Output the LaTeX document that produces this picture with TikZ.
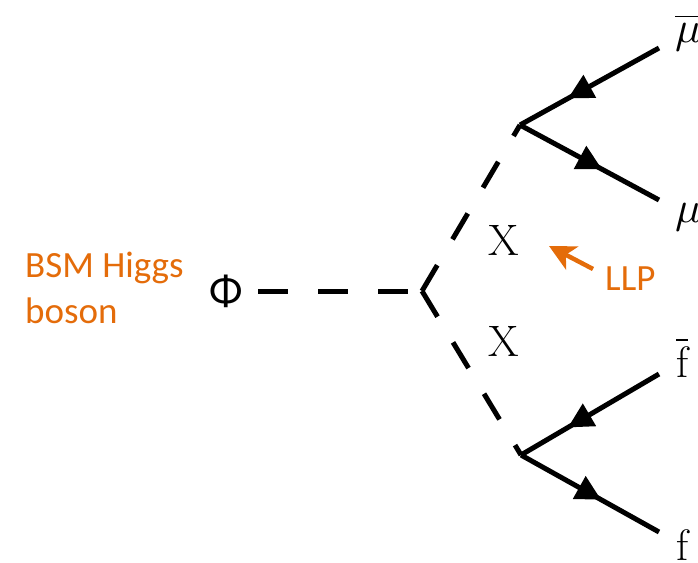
\documentclass[tikz,border=0pt]{standalone}
\usepackage{fontspec}
\usepackage{unicode-math}
\setmathfont{Latin Modern Math}
\newfontfamily\calib{Carlito}
\usetikzlibrary{arrows.meta,decorations.markings}
\definecolor{llporange}{RGB}{228,108,10}
\tikzset{
  scalar/.style={line width=5pt, dash pattern=on 30pt off 30pt},
  fermion/.style={line width=5pt, postaction={decorate},
    decoration={markings, mark=at position #1 with {\arrow{Triangle[length=25pt,width=25pt]}}}},
  fermion/.default=0.62,
  lbl/.style={inner sep=0pt, anchor=base west, font=\fontsize{44}{50}\selectfont},
  otext/.style={inner sep=0pt, anchor=base west, text=llporange, font=\calib\fontsize{37}{44}\selectfont},
}
\begin{document}
\begin{tikzpicture}[x=1pt,y=-1pt]
\useasboundingbox (0,0) rectangle (698,562);
% vertices
\coordinate (start) at (258,291);
\coordinate (v) at (422,291);
\coordinate (vt) at (520,125);
\coordinate (vb) at (521,455);
\coordinate (mubarend) at (659,48);
\coordinate (muend) at (659,200);
\coordinate (fbarend) at (659,374);
\coordinate (fend) at (659,532);
% labels
\node[inner sep=0pt, font=\calib\fontsize{44}{50}\selectfont] (phi) at (226,291) {Φ};
\node[otext] (bsm1) at (25,277) {BSM Higgs};
\node[otext] (bsm2) at (25,323) {boson};
\node[otext] (llp) at (605,290) {LLP};
\node[lbl, anchor=center] (x1) at (504,240) {X};
\node[lbl, anchor=center] (x2) at (504,341) {X};
\node[lbl] (mubar) at (675,42) {$\overline{\mu}$};
\node[lbl] (mu) at (675,222) {$\mu$};
\node[lbl] (fbar) at (676,377) {$\overline{\mathrm{f}}$};
\node[lbl] (f) at (676,560) {$\mathrm{f}$};
% scalar lines
\draw[scalar] (start) -- (v);
\draw[scalar] (v) -- (vt);
\draw[scalar] (v) -- (vb);
% fermion lines
\draw[fermion=0.655] (mubarend) -- (vt);
\draw[fermion=0.59] (vt) -- (muend);
\draw[fermion=0.66] (fbarend) -- (vb);
\draw[fermion=0.58] (vb) -- (fend);
% LLP arrow
\coordinate (llptail) at (593,269);
\coordinate (llptip) at (549,246);
\draw[llporange, line width=4.5pt, -{Stealth[length=26pt,width=26pt,inset=7pt]}] (llptail) -- (llptip);
\end{tikzpicture}
\end{document}
